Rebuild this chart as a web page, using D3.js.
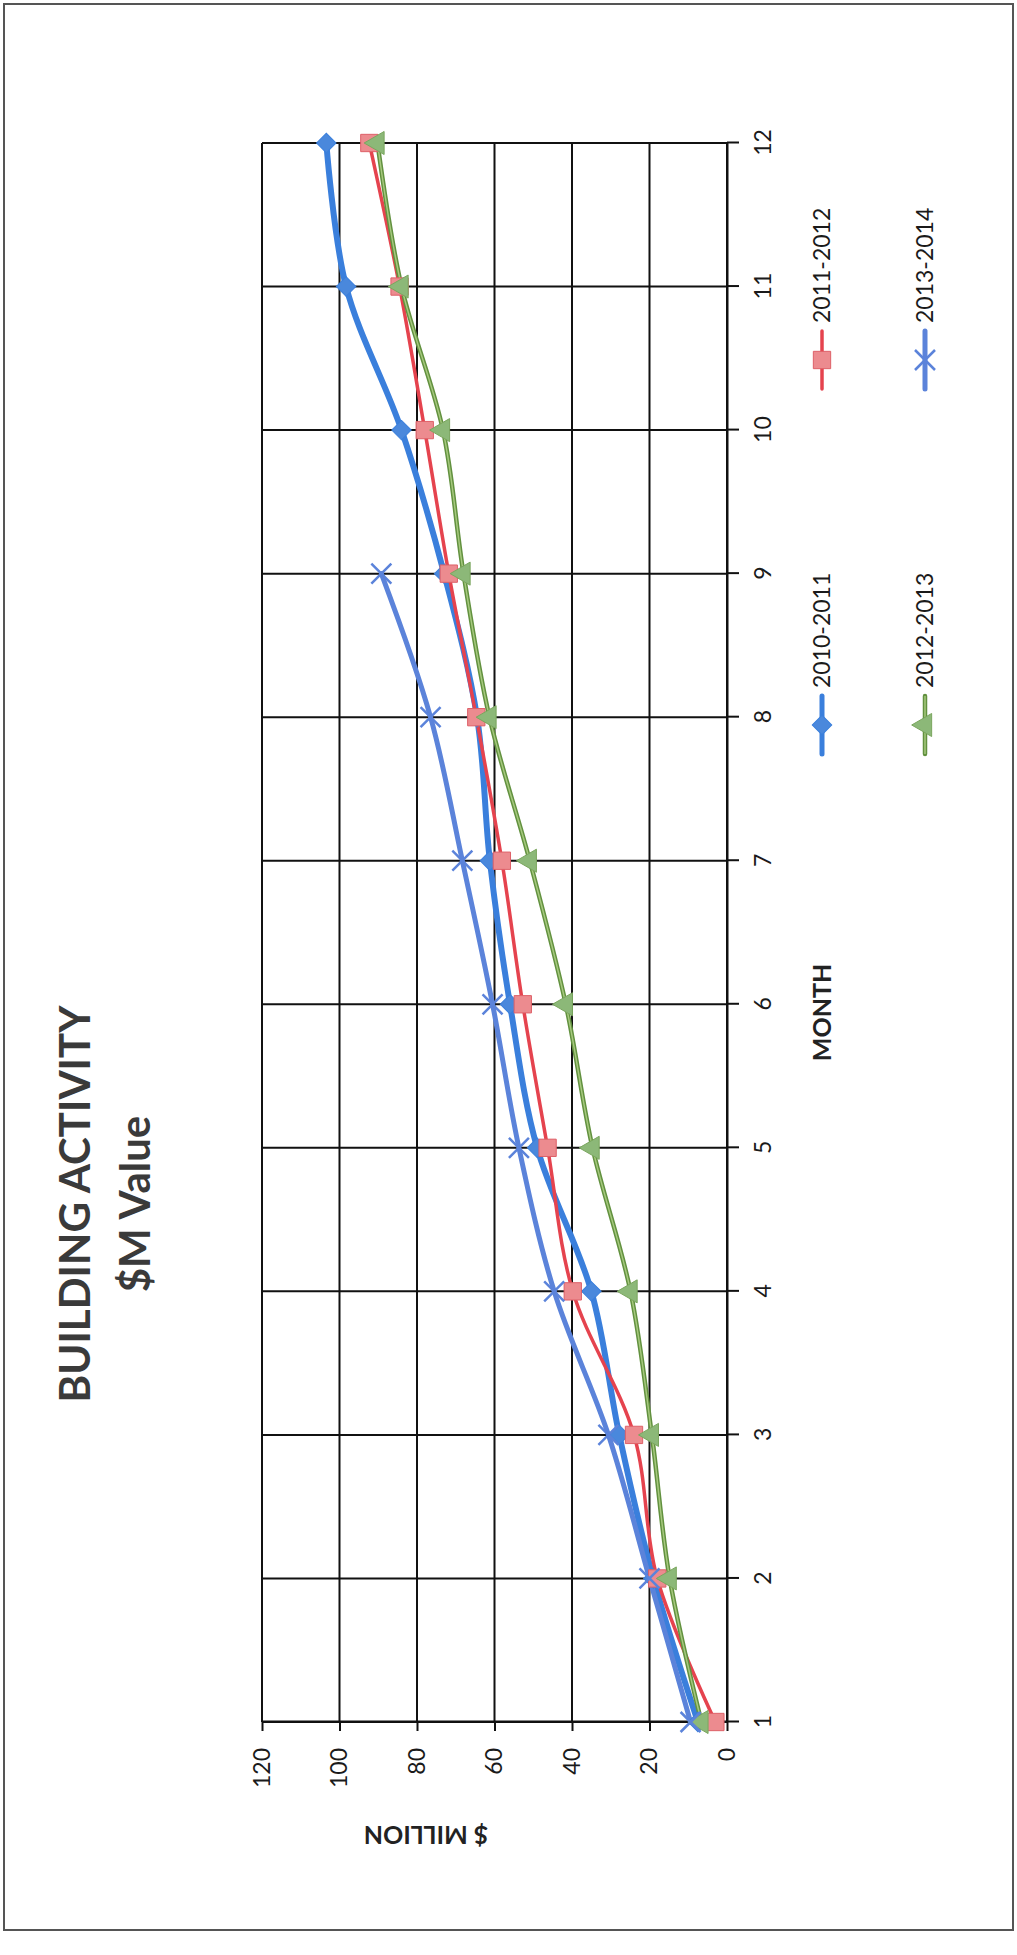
<!DOCTYPE html>
<html>
<head>
<meta charset="utf-8">
<script src="https://cdn.jsdelivr.net/npm/d3@7"></script>
<style>
  html, body { margin: 0; padding: 0; background: #fff; }
  svg { display: block; }
</style>
</head>
<body>
<svg id="chart" width="1017" height="1955"></svg>
<script>
// Building activity, cumulative $M value by month of the financial year
const months = [1, 2, 3, 4, 5, 6, 7, 8, 9, 10, 11, 12];
const valueTicks = [0, 20, 40, 60, 80, 100, 120];
const seriesNames = ["2010-2011", "2011-2012", "2012-2013", "2013-2014"];
const values2010_2011 = [7.5, 19, 27.8, 35, 49, 56, 61.2, 64.5, 73, 84, 98.3, 103.4];
const values2011_2012 = [3, 18, 24, 39.8, 46.3, 52.7, 58.1, 64.7, 71.8, 78, 84.5, 92.3];
const values2012_2013 = [6.6, 14.8, 19.4, 24.9, 34.7, 41.6, 50.9, 61.3, 68, 73.3, 84, 90.2];
const values2013_2014 = [9.4, 20, 30.6, 44.6, 53.7, 60.5, 68.3, 76.5, 89.2];

const W = 1017, H = 1955;
const svg = d3.select("#chart");

// page frame
svg.append("rect").attr("x", 4).attr("y", 4).attr("width", 1009).attr("height", 1926)
  .attr("fill", "#fff").attr("stroke", "#555").attr("stroke-width", 2);

// the chart is laid out landscape and turned a quarter turn counter-clockwise
const g = svg.append("g").attr("transform", `translate(0,${H}) rotate(-90)`);

const x = d3.scaleLinear().domain([1, 12]).range([233, 1812]);
const y = d3.scaleLinear().domain([0, 120]).range([727, 262]);

const styles = [
  { name: seriesNames[0], values: values2010_2011, line: "#3a7fdc", width: 6, marker: "diamond", fill: "#4a88dc", stroke: "#3a7fdc" },
  { name: seriesNames[1], values: values2011_2012, line: "#e5434e", width: 3.5, marker: "square", fill: "#ec8b8f", stroke: "#de6068" },
  { name: seriesNames[2], values: values2012_2013, line: "#62913f", width: 4.5, inner: "#a6c97e", marker: "triangle", fill: "#8cb878", stroke: "#7aa65e" },
  { name: seriesNames[3], values: values2013_2014, line: "#5b83da", width: 5, marker: "x", fill: "none", stroke: "#5b83da" }
];

// grid
const grid = g.append("g").attr("stroke", "#111").attr("stroke-width", 2);
grid.selectAll("line.h").data(valueTicks).join("line").attr("class", "h")
  .attr("x1", x(1)).attr("x2", x(12)).attr("y1", d => y(d)).attr("y2", d => y(d));
grid.selectAll("line.v").data(months).join("line").attr("class", "v")
  .attr("x1", d => x(d)).attr("x2", d => x(d)).attr("y1", y(0)).attr("y2", y(120));

// axes
const yAxis = g.append("g").attr("transform", `translate(${x(1)},0)`)
  .call(d3.axisLeft(y).tickValues(valueTicks).tickSize(9).tickSizeOuter(0).tickPadding(17));
const xAxis = g.append("g").attr("transform", `translate(0,${y(0)})`)
  .call(d3.axisBottom(x).tickValues(months).tickSize(12).tickSizeOuter(0).tickPadding(16));
[yAxis, xAxis].forEach(a => {
  a.select(".domain").attr("stroke", "#111").attr("stroke-width", 2);
  a.selectAll(".tick line").attr("stroke", "#111").attr("stroke-width", 2);
  a.selectAll(".tick text").attr("font-family", "Lato, 'Open Sans', sans-serif")
    .attr("font-size", 23).attr("fill", "#1a1a1a");
});

// series lines
const lineGen = d3.line().x((d, i) => x(months[i])).y(d => y(d)).curve(d3.curveCatmullRom.alpha(0.5));
const lines = g.append("g");
styles.forEach(s => {
  lines.append("path").attr("d", lineGen(s.values))
    .attr("fill", "none").attr("stroke", s.line).attr("stroke-width", s.width)
    .attr("stroke-linejoin", "round").attr("stroke-linecap", "round");
  if (s.inner) {
    lines.append("path").attr("d", lineGen(s.values))
      .attr("fill", "none").attr("stroke", s.inner).attr("stroke-width", 1.5)
      .attr("stroke-linejoin", "round").attr("stroke-linecap", "round");
  }
});

// markers
function drawMarker(sel, kind, s) {
  if (kind === "diamond") {
    sel.append("path").attr("d", d3.symbol(d3.symbolSquare, 190)())
      .attr("transform", "rotate(45)").attr("fill", s.fill).attr("stroke", s.stroke).attr("stroke-width", 1);
  } else if (kind === "square") {
    sel.append("path").attr("d", d3.symbol(d3.symbolSquare, 300)())
      .attr("fill", s.fill).attr("stroke", s.stroke).attr("stroke-width", 1);
  } else if (kind === "triangle") {
    sel.append("path").attr("d", d3.symbol(d3.symbolTriangle, 230)())
      .attr("fill", s.fill).attr("stroke", s.stroke).attr("stroke-width", 1);
  } else {
    const p = d3.path(), r = 10;
    p.moveTo(-r, -r); p.lineTo(r, r); p.moveTo(-r, r); p.lineTo(r, -r);
    sel.append("path").attr("d", p.toString()).attr("fill", "none")
      .attr("stroke", s.stroke).attr("stroke-width", 2.5);
  }
}
styles.forEach(s => {
  const mg = g.append("g");
  s.values.forEach((v, i) => {
    const m = mg.append("g").attr("transform", `translate(${x(months[i])},${y(v)})`);
    drawMarker(m, s.marker, s);
  });
});

// titles
const titleFont = "Lato, 'Open Sans', sans-serif";
const titleCenter = 751;
g.append("text").attr("x", titleCenter).attr("y", 90).attr("text-anchor", "middle")
  .attr("font-family", titleFont).attr("font-weight", 700).attr("font-size", 42).attr("fill", "#3a3a3a")
  .text("BUILDING ACTIVITY");
g.append("text").attr("x", titleCenter).attr("y", 150).attr("text-anchor", "middle")
  .attr("font-family", titleFont).attr("font-weight", 700).attr("font-size", 42).attr("fill", "#3a3a3a")
  .text("$M Value");
g.append("text").attr("x", (x(1) + x(12)) / 2 - 80).attr("y", 831).attr("text-anchor", "middle")
  .attr("font-family", titleFont).attr("font-weight", 700).attr("font-size", 25).attr("fill", "#222")
  .text("MONTH");
g.append("text").attr("transform", "translate(120,426) rotate(-90)").attr("dy", "0.35em")
  .attr("text-anchor", "middle")
  .attr("font-family", titleFont).attr("font-weight", 700).attr("font-size", 25).attr("fill", "#222")
  .text("$ MILLION");

// legend
const legendPos = [
  { u: 1230, v: 822 }, { u: 1595, v: 822 }, { u: 1230, v: 925 }, { u: 1595, v: 925 }
];
styles.forEach((s, i) => {
  const p = legendPos[i];
  const lg = g.append("g").attr("transform", `translate(${p.u},${p.v})`);
  lg.append("line").attr("x1", -29).attr("x2", 29).attr("y1", 0).attr("y2", 0)
    .attr("stroke", s.line).attr("stroke-width", Math.min(s.width, 5)).attr("stroke-linecap", "round");
  if (s.inner) {
    lg.append("line").attr("x1", -29).attr("x2", 29).attr("y1", 0).attr("y2", 0)
      .attr("stroke", s.inner).attr("stroke-width", 1.5);
  }
  drawMarker(lg, s.marker, s);
  lg.append("text").attr("x", 37).attr("y", 8)
    .attr("font-family", titleFont).attr("font-size", 23).attr("fill", "#1a1a1a").text(s.name);
});
</script>
</body>
</html>
